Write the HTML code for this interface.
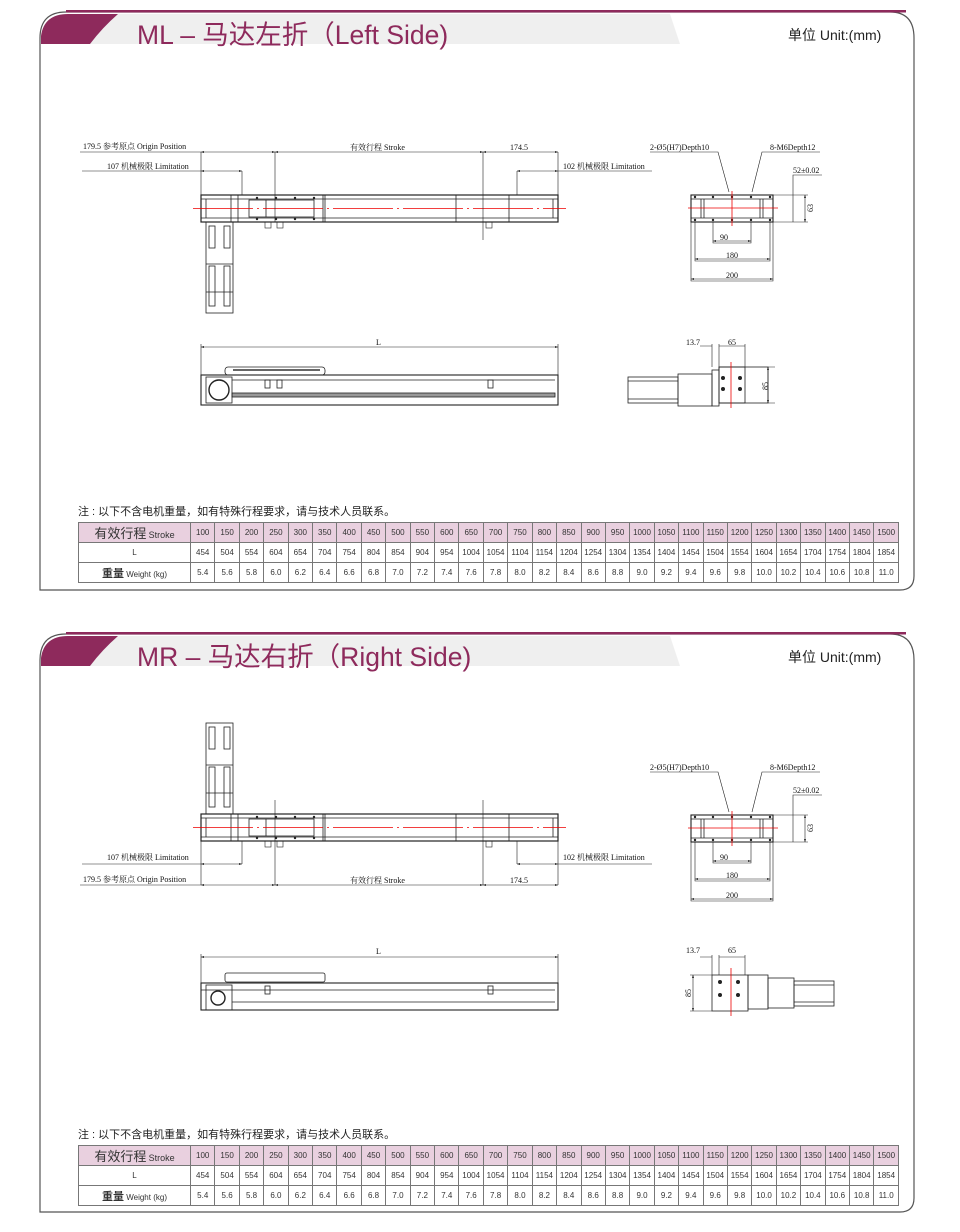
<!DOCTYPE html>
<html><head><meta charset="utf-8">
<style>
body{margin:0;background:#fff;}
#pg{position:relative;width:960px;height:1232px;overflow:hidden;font-family:"Liberation Sans","Noto Sans CJK SC",sans-serif;}
.ttl{position:absolute;left:137px;font-size:26.5px;color:#8e2a5c;font-family:"Liberation Sans","Noto Sans CJK SC",sans-serif;white-space:nowrap;}
.unit{position:absolute;left:788px;font-size:14px;color:#222;}
.note{position:absolute;left:78px;font-size:11px;color:#222;}
table{position:absolute;left:78px;width:821px;border-collapse:collapse;table-layout:fixed;font-size:8px;color:#333;}
td{border:1px solid #777;height:19px;padding:0;text-align:center;}
tr.h td{background:#e9d0df;}
td.f{width:111px;}
</style></head><body><div id="pg">
<svg width="960" height="1232" style="position:absolute;left:0;top:0" font-family="Liberation Serif,Noto Serif CJK SC,serif">
<defs>
<marker id="a" markerWidth="6" markerHeight="6" refX="5" refY="3" orient="auto-start-reverse"><path d="M0,1.5L5,3L0,4.5z" fill="#000"/></marker>
<g id="rail" fill="none" stroke="#222" stroke-width="0.8">
<rect x="0" y="0" width="357" height="27" stroke-width="1.2"/>
<line x1="0" y1="4" x2="357" y2="4"/><line x1="0" y1="23" x2="357" y2="23"/>
<line x1="5" y1="4" x2="5" y2="23"/><line x1="30" y1="0" x2="30" y2="27"/><line x1="37" y1="0" x2="37" y2="27"/>
<rect x="48" y="5" width="65" height="17"/><line x1="65" y1="5" x2="65" y2="22"/>
<line x1="122" y1="0" x2="122" y2="27"/><line x1="124" y1="0" x2="124" y2="27"/>
<line x1="255" y1="0" x2="255" y2="27"/><line x1="308" y1="0" x2="308" y2="27"/><line x1="352" y1="4" x2="352" y2="23"/>
<g fill="#222" stroke="none"><circle cx="56" cy="3" r="1.2"/><circle cx="75" cy="3" r="1.2"/><circle cx="94" cy="3" r="1.2"/><circle cx="113" cy="3" r="1.2"/><circle cx="56" cy="24" r="1.2"/><circle cx="75" cy="24" r="1.2"/><circle cx="94" cy="24" r="1.2"/><circle cx="113" cy="24" r="1.2"/></g>
<line x1="-8" y1="13.5" x2="365" y2="13.5" stroke="#e00" stroke-dasharray="60,4,2,4"/>
</g>
<g id="motor" fill="none" stroke="#222" stroke-width="0.8">
<rect x="0" y="0" width="27" height="91"/><rect x="3" y="4" width="6" height="22"/><rect x="18" y="4" width="6" height="22"/>
<line x1="0" y1="42" x2="27" y2="42"/><rect x="3" y="44" width="6" height="40"/><rect x="18" y="44" width="6" height="40"/><line x1="0" y1="70" x2="27" y2="70"/>
</g>
<g id="endv" fill="none" stroke="#222" stroke-width="0.8">
<rect x="691" y="195" width="82" height="27" stroke-width="1.1"/><line x1="691" y1="199" x2="773" y2="199"/><line x1="691" y1="218" x2="773" y2="218"/>
<line x1="701" y1="199" x2="701" y2="218"/><line x1="704" y1="199" x2="704" y2="218"/><line x1="760" y1="199" x2="760" y2="218"/><line x1="763" y1="199" x2="763" y2="218"/>
<g fill="#222" stroke="none"><circle cx="695" cy="197" r="1.2"/><circle cx="713" cy="197" r="1.2"/><circle cx="732" cy="197" r="1.2"/><circle cx="751" cy="197" r="1.2"/><circle cx="770" cy="197" r="1.2"/><circle cx="695" cy="220" r="1.2"/><circle cx="713" cy="220" r="1.2"/><circle cx="732" cy="220" r="1.2"/><circle cx="751" cy="220" r="1.2"/><circle cx="770" cy="220" r="1.2"/></g>
<line x1="688" y1="208" x2="778" y2="208" stroke="#e00"/><line x1="732" y1="191" x2="732" y2="226" stroke="#e00"/>
<path d="M713,222V243H751V222M695,222V261H770V222M691,222V281H773V222" stroke-width="0.6"/>
<line x1="713" y1="241" x2="751" y2="241" marker-start="url(#a)" marker-end="url(#a)" stroke-width="0.6"/>
<line x1="695" y1="259" x2="770" y2="259" marker-start="url(#a)" marker-end="url(#a)" stroke-width="0.6"/>
<line x1="691" y1="279" x2="773" y2="279" marker-start="url(#a)" marker-end="url(#a)" stroke-width="0.6"/>
<path d="M773,195H808M773,222H808M793,222V175H822M729,192L718,152H650M752,192L762,152H820" stroke-width="0.6"/>
<line x1="805" y1="195" x2="805" y2="222" marker-start="url(#a)" marker-end="url(#a)" stroke-width="0.6"/>
</g>
<g id="endt" font-size="8" fill="#111"><text x="720" y="240">90</text><text x="726" y="258">180</text><text x="726" y="278">200</text><text x="650" y="150">2-Ø5(H7)Depth10</text><text x="770" y="150">8-M6Depth12</text><text x="793" y="173">52±0.02</text><text x="813" y="212" transform="rotate(-90 813 212)">63</text></g>
</defs>

<g fill="none" stroke="#555" stroke-width="1.2">
<path d="M40,590V38Q40,12 66,12H890Q914,12 914,38V576Q914,590 900,590Z"/>
<path d="M40,1212V660Q40,634 66,634H890Q914,634 914,660V1198Q914,1212 900,1212Z"/>
</g>
<rect x="66" y="10" width="840" height="2.5" fill="#8e2a5c"/><rect x="66" y="632" width="840" height="2.5" fill="#8e2a5c"/>
<path d="M41,44V36Q44,14 68,14H670L680,44Z" fill="#efefef"/><path d="M41,44V36Q44,14 68,14H118Q102,28 90,44Z" fill="#8e2a5c"/>
<path d="M41,666V658Q44,636 68,636H670L680,666Z" fill="#efefef"/><path d="M41,666V658Q44,636 68,636H118Q102,650 90,666Z" fill="#8e2a5c"/>

<use href="#rail" x="201" y="195"/><use href="#motor" x="206" y="222"/>
<g fill="none" stroke="#222" stroke-width="0.6">
<path d="M80,152H201M201,152V195M275,152V222M483,152V240M558,152V195M242,171V195M517,171V195M558,171H652M82,171H201"/>
<line x1="201" y1="152" x2="275" y2="152" marker-start="url(#a)" marker-end="url(#a)"/>
<line x1="275" y1="152" x2="483" y2="152" marker-start="url(#a)" marker-end="url(#a)"/>
<line x1="483" y1="152" x2="558" y2="152" marker-start="url(#a)" marker-end="url(#a)"/>
<line x1="201" y1="171" x2="242" y2="171" marker-start="url(#a)" marker-end="url(#a)"/>
<line x1="517" y1="171" x2="558" y2="171" marker-start="url(#a)" marker-end="url(#a)"/>
<rect x="265" y="222" width="6" height="6"/><rect x="277" y="222" width="6" height="6"/><rect x="486" y="222" width="6" height="6"/>
</g>
<g font-size="8" fill="#111"><text x="83" y="149">179.5 参考原点 Origin Position</text><text x="350" y="150">有效行程 Stroke</text><text x="510" y="150">174.5</text><text x="107" y="169">107 机械极限 Limitation</text><text x="563" y="169">102 机械极限 Limitation</text></g>
<use href="#endv"/><use href="#endt"/>
<g fill="none" stroke="#222" stroke-width="0.8">
<line x1="201" y1="347" x2="558" y2="347" marker-start="url(#a)" marker-end="url(#a)" stroke-width="0.6"/><path d="M201,344V375M558,344V375" stroke-width="0.6"/>
<rect x="201" y="375" width="357" height="30" stroke-width="1.1"/><line x1="232" y1="380" x2="555" y2="380"/><rect x="232" y="393" width="323" height="4" fill="#999"/>
<rect x="206" y="377" width="26" height="26"/><circle cx="219" cy="390" r="10" stroke-width="1.4"/>
<rect x="225" y="367" width="100" height="8" rx="3"/><line x1="233" y1="370" x2="320" y2="370" stroke-width="2" stroke="#666"/>
<rect x="265" y="380" width="5" height="8"/><rect x="277" y="380" width="5" height="8"/><rect x="488" y="380" width="5" height="8"/>
<rect x="628" y="377" width="50" height="26"/><line x1="628" y1="381" x2="678" y2="381"/><line x1="628" y1="399" x2="678" y2="399"/>
<rect x="678" y="374" width="34" height="32"/><rect x="712" y="370" width="7" height="36"/><rect x="719" y="367" width="49" height="36"/><rect x="719" y="367" width="26" height="36"/>
<path d="M712,367V344M719,367V344M745,367V344M712,346H700M719,346H745" stroke-width="0.6"/>
<line x1="731" y1="362" x2="731" y2="408" stroke="#e00"/><path d="M768,367H775M768,403H775" stroke-width="0.6"/><line x1="768" y1="367" x2="768" y2="403" marker-start="url(#a)" marker-end="url(#a)" stroke-width="0.6"/>
</g>
<g fill="#222"><circle cx="723" cy="378" r="2"/><circle cx="740" cy="378" r="2"/><circle cx="723" cy="389" r="2"/><circle cx="740" cy="389" r="2"/></g>
<g font-size="8" fill="#111"><text x="376" y="345">L</text><text x="686" y="345">13.7</text><text x="728" y="345">65</text><text x="768" y="390" transform="rotate(-90 768 390)">85</text></g>

<use href="#rail" x="201" y="814"/><use href="#motor" x="206" y="723"/>
<g fill="none" stroke="#222" stroke-width="0.6">
<path d="M80,885H201M201,841V885M275,800V885M483,800V885M558,841V885M242,841V864M517,841V864M558,864H652M82,864H201"/>
<line x1="201" y1="885" x2="275" y2="885" marker-start="url(#a)" marker-end="url(#a)"/>
<line x1="275" y1="885" x2="483" y2="885" marker-start="url(#a)" marker-end="url(#a)"/>
<line x1="483" y1="885" x2="558" y2="885" marker-start="url(#a)" marker-end="url(#a)"/>
<line x1="201" y1="864" x2="242" y2="864" marker-start="url(#a)" marker-end="url(#a)"/>
<line x1="517" y1="864" x2="558" y2="864" marker-start="url(#a)" marker-end="url(#a)"/>
<rect x="265" y="841" width="6" height="6"/><rect x="277" y="841" width="6" height="6"/><rect x="486" y="841" width="6" height="6"/>
</g>
<g font-size="8" fill="#111"><text x="83" y="882">179.5 参考原点 Origin Position</text><text x="350" y="883">有效行程 Stroke</text><text x="510" y="883">174.5</text><text x="107" y="860">107 机械极限 Limitation</text><text x="563" y="860">102 机械极限 Limitation</text></g>
<g transform="translate(0,620)"><use href="#endv"/><use href="#endt"/></g>
<g fill="none" stroke="#222" stroke-width="0.8">
<line x1="201" y1="957" x2="558" y2="957" marker-start="url(#a)" marker-end="url(#a)" stroke-width="0.6"/><path d="M201,954V983M558,954V983" stroke-width="0.6"/>
<rect x="201" y="983" width="357" height="27" stroke-width="1.1"/><line x1="201" y1="990" x2="555" y2="990"/><line x1="232" y1="1002" x2="555" y2="1002"/>
<rect x="206" y="985" width="26" height="25"/><circle cx="218" cy="998" r="7" stroke-width="1.4"/>
<rect x="225" y="973" width="100" height="9" rx="2"/><rect x="265" y="986" width="5" height="8"/><rect x="488" y="986" width="5" height="8"/>
<rect x="712" y="975" width="36" height="36"/><rect x="748" y="975" width="20" height="34"/><rect x="768" y="978" width="26" height="30"/><rect x="794" y="981" width="40" height="25"/><line x1="794" y1="985" x2="834" y2="985"/><line x1="794" y1="1002" x2="834" y2="1002"/>
<path d="M712,975V955M719,975V955M745,975V955M712,957H700M719,957H745M712,975H690M712,1011H690" stroke-width="0.6"/>
<line x1="731" y1="968" x2="731" y2="1016" stroke="#e00"/><line x1="693" y1="975" x2="693" y2="1011" marker-start="url(#a)" marker-end="url(#a)" stroke-width="0.6"/>
</g>
<g fill="#222"><circle cx="720" cy="982" r="2"/><circle cx="738" cy="982" r="2"/><circle cx="720" cy="995" r="2"/><circle cx="738" cy="995" r="2"/></g>
<g font-size="8" fill="#111"><text x="376" y="954">L</text><text x="686" y="953">13.7</text><text x="728" y="953">65</text><text x="691" y="997" transform="rotate(-90 691 997)">85</text></g>
</svg>

<div class="ttl" style="top:13px">ML – 马达左折（Left Side)</div>
<div class="unit" style="top:25px">单位 Unit:(mm)</div>
<div class="ttl" style="top:635px">MR – 马达右折（Right Side)</div>
<div class="unit" style="top:647px">单位 Unit:(mm)</div>
<div class="note" style="top:503px">注 : 以下不含电机重量，如有特殊行程要求，请与技术人员联系。</div>
<div class="note" style="top:1126px">注 : 以下不含电机重量，如有特殊行程要求，请与技术人员联系。</div>

<table style="top:522px">
<tr class="h"><td class="f"><span style="font-size:13px">有效行程</span> <span style="font-size:9px">Stroke</span></td><td>100</td><td>150</td><td>200</td><td>250</td><td>300</td><td>350</td><td>400</td><td>450</td><td>500</td><td>550</td><td>600</td><td>650</td><td>700</td><td>750</td><td>800</td><td>850</td><td>900</td><td>950</td><td>1000</td><td>1050</td><td>1100</td><td>1150</td><td>1200</td><td>1250</td><td>1300</td><td>1350</td><td>1400</td><td>1450</td><td>1500</td></tr>
<tr><td>L</td><td>454</td><td>504</td><td>554</td><td>604</td><td>654</td><td>704</td><td>754</td><td>804</td><td>854</td><td>904</td><td>954</td><td>1004</td><td>1054</td><td>1104</td><td>1154</td><td>1204</td><td>1254</td><td>1304</td><td>1354</td><td>1404</td><td>1454</td><td>1504</td><td>1554</td><td>1604</td><td>1654</td><td>1704</td><td>1754</td><td>1804</td><td>1854</td></tr>
<tr><td><b style="font-size:11px">重量</b> Weight (kg)</td><td>5.4</td><td>5.6</td><td>5.8</td><td>6.0</td><td>6.2</td><td>6.4</td><td>6.6</td><td>6.8</td><td>7.0</td><td>7.2</td><td>7.4</td><td>7.6</td><td>7.8</td><td>8.0</td><td>8.2</td><td>8.4</td><td>8.6</td><td>8.8</td><td>9.0</td><td>9.2</td><td>9.4</td><td>9.6</td><td>9.8</td><td>10.0</td><td>10.2</td><td>10.4</td><td>10.6</td><td>10.8</td><td>11.0</td></tr>
</table>
<table style="top:1145px">
<tr class="h"><td class="f"><span style="font-size:13px">有效行程</span> <span style="font-size:9px">Stroke</span></td><td>100</td><td>150</td><td>200</td><td>250</td><td>300</td><td>350</td><td>400</td><td>450</td><td>500</td><td>550</td><td>600</td><td>650</td><td>700</td><td>750</td><td>800</td><td>850</td><td>900</td><td>950</td><td>1000</td><td>1050</td><td>1100</td><td>1150</td><td>1200</td><td>1250</td><td>1300</td><td>1350</td><td>1400</td><td>1450</td><td>1500</td></tr>
<tr><td>L</td><td>454</td><td>504</td><td>554</td><td>604</td><td>654</td><td>704</td><td>754</td><td>804</td><td>854</td><td>904</td><td>954</td><td>1004</td><td>1054</td><td>1104</td><td>1154</td><td>1204</td><td>1254</td><td>1304</td><td>1354</td><td>1404</td><td>1454</td><td>1504</td><td>1554</td><td>1604</td><td>1654</td><td>1704</td><td>1754</td><td>1804</td><td>1854</td></tr>
<tr><td><b style="font-size:11px">重量</b> Weight (kg)</td><td>5.4</td><td>5.6</td><td>5.8</td><td>6.0</td><td>6.2</td><td>6.4</td><td>6.6</td><td>6.8</td><td>7.0</td><td>7.2</td><td>7.4</td><td>7.6</td><td>7.8</td><td>8.0</td><td>8.2</td><td>8.4</td><td>8.6</td><td>8.8</td><td>9.0</td><td>9.2</td><td>9.4</td><td>9.6</td><td>9.8</td><td>10.0</td><td>10.2</td><td>10.4</td><td>10.6</td><td>10.8</td><td>11.0</td></tr>
</table>
</div></body></html>
